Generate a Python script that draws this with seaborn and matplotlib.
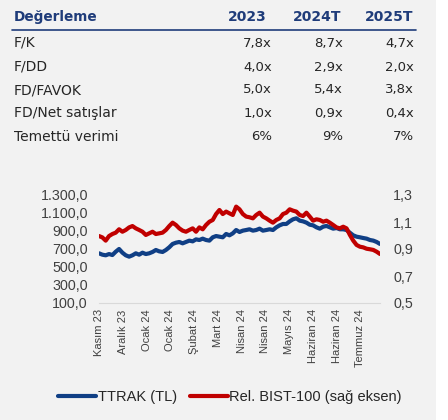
import matplotlib
matplotlib.use("Agg")
import matplotlib.pyplot as plt
import numpy as np
import pandas as pd
import seaborn as sns
from matplotlib.lines import Line2D
from matplotlib.patches import Rectangle

# valuation table
header = ["Değerleme", "2023", "2024T", "2025T"]
row_labels = ["F/K", "F/DD", "FD/FAVOK", "FD/Net satışlar", "Temettü verimi"]
vals_2023 = ["7,8x", "4,0x", "5,0x", "1,0x", "6%"]
vals_2024 = ["8,7x", "2,9x", "5,4x", "0,9x", "9%"]
vals_2025 = ["4,7x", "2,0x", "3,8x", "0,4x", "7%"]

# price chart
ttrak = [652, 637, 630, 644, 633, 670, 700, 659, 630, 615,
         630, 652, 637, 659, 644, 652, 667, 689, 674, 667,
         689, 719, 756, 770, 778, 763, 778, 793, 785, 807,
         800, 815, 800, 793, 830, 844, 837, 830, 867, 852,
         874, 911, 889, 904, 911, 919, 904, 911, 926, 904,
         911, 919, 911, 941, 963, 978, 978, 1007, 1030, 1041,
         1015, 1007, 993, 970, 963, 941, 926, 948, 956, 941,
         926, 933, 919, 919, 911, 881, 852, 837, 830, 822,
         815, 800, 793, 778, 756]
rel_bist = [0.996, 0.986, 0.962, 0.996, 1.011, 1.021, 1.046, 1.028, 1.041, 1.060,
            1.070, 1.053, 1.041, 1.028, 1.004, 1.016, 1.028, 1.011, 1.016, 1.021,
            1.041, 1.070, 1.095, 1.078, 1.053, 1.036, 1.028, 1.041, 1.053, 1.028,
            1.060, 1.046, 1.078, 1.102, 1.115, 1.159, 1.189, 1.159, 1.177, 1.164,
            1.152, 1.214, 1.194, 1.159, 1.140, 1.135, 1.127, 1.152, 1.169, 1.140,
            1.127, 1.110, 1.095, 1.115, 1.127, 1.159, 1.169, 1.194, 1.184, 1.177,
            1.152, 1.144, 1.169, 1.140, 1.110, 1.120, 1.115, 1.102, 1.110, 1.095,
            1.078, 1.060, 1.053, 1.065, 1.053, 1.004, 0.962, 0.930, 0.917, 0.912,
            0.902, 0.898, 0.893, 0.880, 0.863]
tick_labels = ["Kasım 23", "Aralık 23", "Ocak 24", "Ocak 24", "Şubat 24", "Mart 24",
               "Nisan 24", "Nisan 24", "Mayıs 24", "Haziran 24", "Haziran 24", "Temmuz 24"]

BLUE = "#103f85"
RED = "#c00000"
NAVY = "#1f3c7a"
GREY_TXT = "#404040"
W, H = 448, 420

sns.set_style("white")
plt.rcParams["font.family"] = ["Liberation Sans", "DejaVu Sans"]

fig = plt.figure(figsize=(W / 100, H / 100), dpi=100, facecolor="#f2f2f2")
fig.patches.append(Rectangle((436 / W, 0), 12 / W, 1, transform=fig.transFigure,
                             facecolor="white", edgecolor="none"))


def fx(px):
    return px / W


def fy(py):
    return 1 - py / H


# table
tfont = ["DejaVu Sans"]
col_right = [272, 343, 414]
fig.text(fx(14), fy(17), header[0], fontsize=9.8, fontweight="bold", color=NAVY,
         family=tfont, va="center", ha="left")
for x, h in zip([267, 341, 413], header[1:]):
    fig.text(fx(x), fy(17), h, fontsize=10, fontweight="bold", color=NAVY,
             family=tfont, va="center", ha="right")
fig.add_artist(Line2D([fx(12), fx(416)], [fy(30), fy(30)], color=NAVY, lw=1.2))
row_y = [43, 67, 90, 113, 137]
for i, lab in enumerate(row_labels):
    fig.text(fx(14), fy(row_y[i]), lab, fontsize=10, color="#262626",
             family=tfont, va="center", ha="left")
    for x, col in zip(col_right, [vals_2023, vals_2024, vals_2025]):
        fig.text(fx(x), fy(row_y[i]), col[i], fontsize=9.5, color="#262626",
                 family=tfont, va="center", ha="right")

# chart
df = pd.DataFrame({"idx": np.arange(len(ttrak)), "ttrak": ttrak, "rel": rel_bist})
ax = fig.add_axes([fx(99), 117 / H, 281 / W, 108 / H])
ax.set_facecolor("none")
sns.lineplot(data=df, x="idx", y="ttrak", ax=ax, color=BLUE, lw=3)
ax2 = ax.twinx()
sns.lineplot(data=df, x="idx", y="rel", ax=ax2, color=RED, lw=3)

ax.set_xlim(0, len(ttrak) - 1)
ax.set_ylim(100, 1300)
ax2.set_ylim(0.5, 1.3)
ax.set_yticks(np.arange(100, 1301, 200))
ax.set_yticklabels([f"{v:,.1f}".replace(",", "X").replace(".", ",").replace("X", ".")
                    for v in np.arange(100, 1301, 200)])
ax2.set_yticks(np.arange(0.5, 1.31, 0.2))
ax2.set_yticklabels([f"{v:.1f}".replace(".", ",") for v in np.arange(0.5, 1.31, 0.2)])
ticks = np.arange(len(tick_labels)) * 7.1
ax.set_xticks(ticks)
ax.set_xticklabels(tick_labels, rotation=90, fontsize=8, color=GREY_TXT)
ax.set_xlabel("")
ax.set_ylabel("")
ax2.set_ylabel("")

for a in (ax, ax2):
    for s in a.spines.values():
        s.set_visible(False)
    a.grid(False)
ax.spines["bottom"].set_visible(True)
ax.spines["bottom"].set_color("#d9d9d9")
ax.spines["bottom"].set_linewidth(0.8)
ax.tick_params(axis="x", length=2.5, width=0.8, color="#d9d9d9", pad=2)
ax.tick_params(axis="y", length=0, pad=8, labelsize=10.3, labelcolor=GREY_TXT)
ax2.tick_params(axis="y", length=0, pad=9.5, labelsize=10.3, labelcolor=GREY_TXT)

handles = [Line2D([], [], color=BLUE, lw=3), Line2D([], [], color=RED, lw=3)]
fig.legend(handles, ["TTRAK (TL)", "Rel. BIST-100 (sağ eksen)"], loc="center",
           bbox_to_anchor=(fx(230), fy(397)), ncol=2, frameon=False, fontsize=10.5,
           handlelength=2.6, handletextpad=0.1, columnspacing=0.9,
           labelcolor="#262626")

fig.savefig("out.png", dpi=100, facecolor=fig.get_facecolor())
